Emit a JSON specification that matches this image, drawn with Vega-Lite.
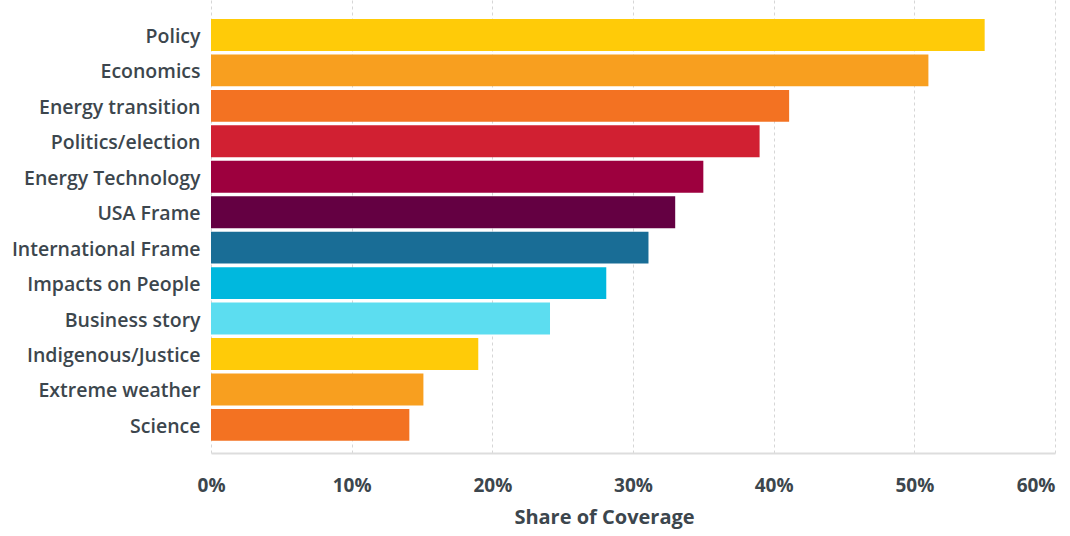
{
  "$schema": "https://vega.github.io/schema/vega-lite/v6.json",
  "autosize": "none",
  "width": 844,
  "height": 453,
  "padding": {"left": 211, "top": 0, "right": 15, "bottom": 83},
  "background": "white",
  "config": {"view": {"stroke": null}, "font": "Open Sans"},
  "data": {"values": [
    {"topic": "Policy", "share": 0.55, "color": "#FFCB08"},
    {"topic": "Economics", "share": 0.51, "color": "#F89F1F"},
    {"topic": "Energy transition", "share": 0.411, "color": "#F37222"},
    {"topic": "Politics/election", "share": 0.39, "color": "#D12032"},
    {"topic": "Energy Technology", "share": 0.35, "color": "#9D003E"},
    {"topic": "USA Frame", "share": 0.33, "color": "#640042"},
    {"topic": "International Frame", "share": 0.311, "color": "#196D96"},
    {"topic": "Impacts on People", "share": 0.281, "color": "#00B8DE"},
    {"topic": "Business story", "share": 0.241, "color": "#5CDDF0"},
    {"topic": "Indigenous/Justice", "share": 0.19, "color": "#FFCB08"},
    {"topic": "Extreme weather", "share": 0.151, "color": "#F89F1F"},
    {"topic": "Science", "share": 0.141, "color": "#F37222"}
  ]},
  "mark": {"type": "bar"},
  "encoding": {
    "y": {
      "field": "topic", "type": "nominal", "sort": null,
      "scale": {"paddingInner": 0.1, "paddingOuter": 0.44, "align": 0.61},
      "axis": {
        "title": null, "ticks": false, "domain": false, "grid": false,
        "labelFontSize": 19.5, "labelColor": "#3c464d", "labelPadding": 11,
        "labelFontWeight": 600, "labelLimit": 300, "labelBaseline": "middle", "labelOffset": 2
      }
    },
    "x": {
      "field": "share", "type": "quantitative",
      "scale": {"domain": [0, 0.6], "nice": false},
      "axis": {
        "title": "Share of Coverage", "format": ".0%", "values": [0, 0.1, 0.2, 0.3, 0.4, 0.5, 0.6],
        "ticks": false, "domain": true, "domainColor": "#dddddd", "domainWidth": 2,
        "grid": true, "gridColor": "#d6d6d6", "gridDash": [3, 3], "gridWidth": 1,
        "labelFontSize": 19, "labelFontWeight": "bold", "labelColor": "#3c464d",
        "labelPadding": 23, "labelFlush": false,
        "labelAlign": {"condition": {"test": "datum.value >= 0.6", "value": "right"}, "value": "center"},
        "titleFontSize": 20, "titleFontWeight": "bold", "titleColor": "#3c464d",
        "titlePadding": 12, "titleX": 393
      }
    },
    "color": {"field": "color", "type": "nominal", "scale": null, "legend": null}
  }
}
